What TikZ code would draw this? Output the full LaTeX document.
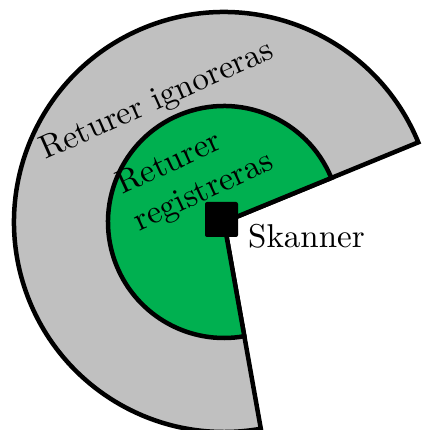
\documentclass[tikz,border=0pt]{standalone}
\usepackage{fontspec}
\setmainfont{lmroman10-regular.otf}
\usepackage{tikz}
\usetikzlibrary{positioning}
\definecolor{ringgray}{HTML}{C0C0C0}
\definecolor{zonegreen}{HTML}{00B050}

\begin{document}
\begin{tikzpicture}[x=1pt, y=1pt,
  zone/.style={draw=black, line width=4.5pt},
  textlabel/.style={font=\fontsize{33}{40}\selectfont, inner sep=0pt}]
  \useasboundingbox (0,0) rectangle (422,430);
  \coordinate (c) at (224,208);

  % outer ring
  \draw[zone,fill=ringgray] (c) -- ++(22.3:210)
    arc[start angle=22.3, end angle=280.1, radius=210] -- cycle;

  % inner zone
  \draw[zone,fill=zonegreen] (c) -- ++(22.3:116)
    arc[start angle=22.3, end angle=280.1, radius=116] -- cycle;

  % scanner
  \node[fill=black, minimum width=33pt, minimum height=35pt,
    rounded corners=2pt, inner sep=0pt] (scanner) at (221.5,210.5) {};
  \node[textlabel, anchor=base west] (skanner) at (248,182) {Skanner};

  % labels
  \node[textlabel, rotate=24] (ignored) at (157,328.5) {Returer ignoreras};
  \node[textlabel, rotate=25, align=left] (registered) at (195.6,255.6)
    {Returer\\registreras};
\end{tikzpicture}
\end{document}
